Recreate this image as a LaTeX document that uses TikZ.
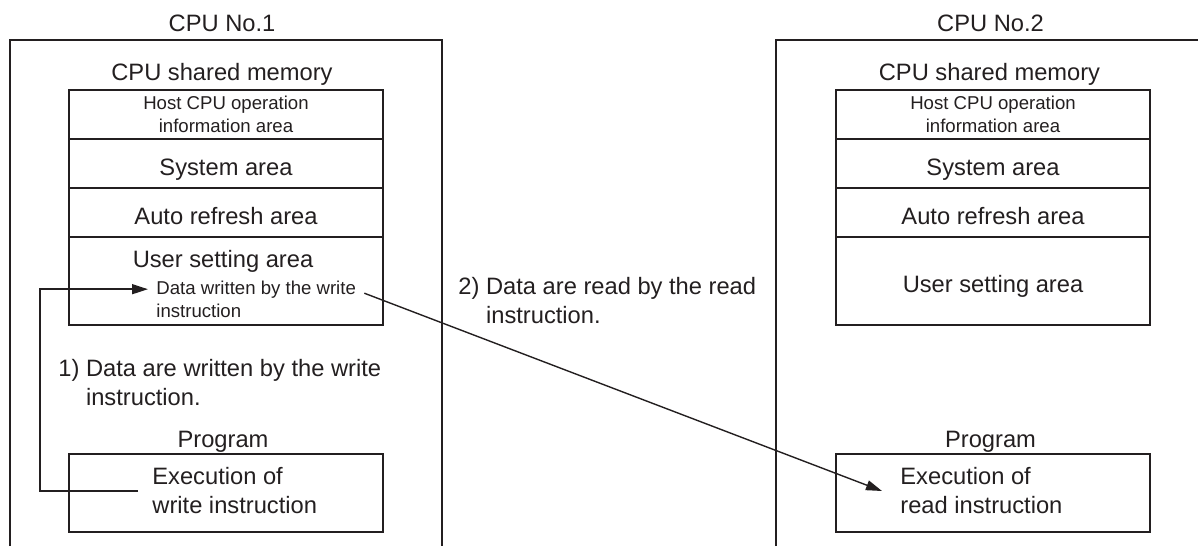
\documentclass[tikz,border=0pt]{standalone}
\usepackage{fontspec}
\setsansfont{Liberation Sans}
\definecolor{Ink}{HTML}{231F20}
\usetikzlibrary{arrows.meta, positioning}

\begin{document}
\begin{tikzpicture}[
  x=0.5pt, y=-0.5pt,
  every node/.style={font=\sffamily, text=Ink, inner sep=0pt},
  bigtxt/.style={font=\sffamily\fontsize{11.85pt}{14.5pt}\selectfont},
  smalltxt/.style={font=\sffamily\fontsize{9.3pt}{11.25pt}\selectfont},
  rowtxt/.style={text height=11.85pt, text depth=0pt},
  frame/.style={draw=Ink, line width=0.75pt},
  memrow/.style={draw=Ink, line width=0.75pt, outer sep=0pt,
                 minimum width=157pt, minimum height=24.5pt},
  progbox/.style={draw=Ink, line width=0.75pt,
                  minimum width=157pt, minimum height=39pt},
  dataarr/.style={-{Triangle[length=8pt,width=5pt]}, draw=Ink,
                  line width=0.7pt}
]
\useasboundingbox (0,0) rectangle (1198,546);

% CPU frames, open at the bottom
\draw[frame] (10,546) |- (442,40) -- (442,546);
\draw[frame] (776,546) |- (1198,40);

% CPU No.1
\node[bigtxt, anchor=base] (cpu1) at (222,32) {CPU No.1};
\node[bigtxt, anchor=base] (shm1) at (222,80) {CPU shared memory};
\node[memrow, smalltxt, align=center] (host1) at (226,114.5)
  {Host CPU operation\\information area};
\node[memrow, rowtxt, bigtxt, below=0pt of host1] (sys1) {System area};
\node[memrow, rowtxt, bigtxt, below=0pt of sys1] (auto1) {Auto refresh area};
\node[memrow, minimum height=44pt, below=0pt of auto1] (user1) {};
\node[bigtxt, anchor=base] (user1lbl) at (223,267) {User setting area};
\node[smalltxt, anchor=base west] (wdata) at (156,294)
  {Data written by the write};
\node[smalltxt, anchor=base west] (wdatab)
  at ([yshift=-11.5pt]wdata.base west) {instruction};

\node[bigtxt, align=left, anchor=north west] (step1) at (58,359)
  {1) Data are written by the write\\\hphantom{1) }instruction.};

\node[bigtxt, anchor=base] (prog1) at (223,447) {Program};
\node[progbox] (pbox1) at (226,493) {};
\node[bigtxt, align=left, anchor=west] (wexec) at (152,491)
  {Execution of\\write instruction};

% CPU No.2
\node[bigtxt, anchor=base] (cpu2) at (990.5,32) {CPU No.2};
\node[bigtxt, anchor=base] (shm2) at (989.5,80) {CPU shared memory};
\node[memrow, smalltxt, align=center] (host2) at (993,114.5)
  {Host CPU operation\\information area};
\node[memrow, rowtxt, bigtxt, below=0pt of host2] (sys2) {System area};
\node[memrow, rowtxt, bigtxt, below=0pt of sys2] (auto2) {Auto refresh area};
\node[memrow, rowtxt, bigtxt, minimum height=44pt, below=0pt of auto2]
  (user2) {User setting area};

\node[bigtxt, anchor=base] (prog2) at (990.5,447) {Program};
\node[progbox] (pbox2) at (993,493) {};
\node[bigtxt, align=left, anchor=west] (rexec) at (900,491)
  {Execution of\\read instruction};

\node[bigtxt, align=left, anchor=north west] (step2) at (458,277)
  {2) Data are read by the read\\\hphantom{2) }instruction.};

% data flow
\draw[dataarr] ([xshift=-7pt]wexec.west) -- ++(-49pt,0)
  |- ([xshift=-4pt]wdata.west);
\draw[dataarr] ([xshift=4pt,yshift=-2pt]wdata.east)
  -- ([xshift=-9pt]rexec.west);

\end{tikzpicture}
\end{document}
